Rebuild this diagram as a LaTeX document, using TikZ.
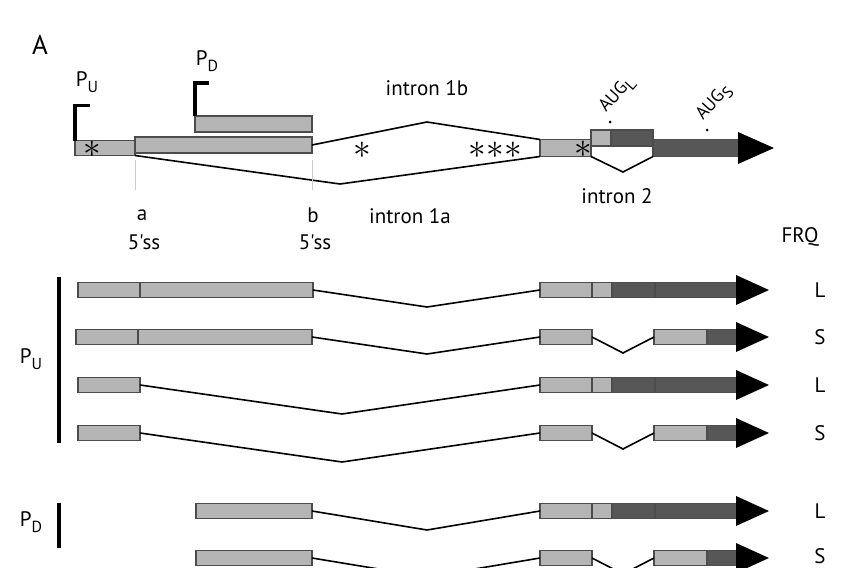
\documentclass[tikz,border=0pt]{standalone}
\usepackage{fontspec}
\newfontfamily\plainsans{PT Sans}
\usetikzlibrary{positioning}
\definecolor{exonlight}{gray}{0.71}
\definecolor{exondark}{gray}{0.34}
\definecolor{exonedge}{gray}{0.30}
\newcommand{\lowidx}[1]{\raisebox{-0.55ex}{\fontsize{16}{16}\selectfont #1}}
\newcommand{\stopmark}{\scalebox{1.7}{$\ast$}}

\begin{document}
\begin{tikzpicture}[x=1pt,y=-1pt,
    every node/.style={font=\plainsans\fontsize{21}{23}\selectfont},
    lexon/.style={draw=exonedge,fill=exonlight,line width=1.4pt,inner sep=0pt,outer sep=0pt,minimum height=15pt,anchor=west},
    dexon/.style={lexon,fill=exondark},
    intron/.style={line width=1.6pt},
    promoter/.style={line width=3.2pt},
    ast/.style={inner sep=0pt,font=\fontsize{20}{20}\selectfont},
    augtext/.style={rotate=48,anchor=south west,inner sep=1pt,font=\plainsans\fontsize{18}{20}\selectfont}]
    \useasboundingbox (0,0) rectangle (852,568);

    \node (panel) at (40,45) {\fontsize{27}{29}\selectfont A};

    % Gene model
    \node[lexon,minimum width=60pt] (u1) at (75,148) {};
    \node[lexon,minimum width=177pt,minimum height=16pt] (u2) at (135,145) {};
    \node[lexon,minimum width=117pt,minimum height=16pt] (d2) at (195,124) {};
    \node[lexon,minimum width=51pt,minimum height=17pt] (g2) at (540,148) {};
    \node[lexon,minimum width=20pt,minimum height=16pt] (augl) at (591,138) {};
    \node[dexon,minimum width=42pt,minimum height=16pt] (orfl) at (611,138) {};
    \node[dexon,minimum width=87pt,minimum height=17pt] (orfs) at (653,148) {};
    \fill (orfs.east) ++(-2,-16) -- ++(36,16) -- ++(-36,16) -- cycle;

    % Promoters
    \draw[promoter] (u1.north west) -- ++(0,-35) -- ++(15,0);
    \draw[promoter] (d2.north west) -- ++(0,-33) -- ++(14,0);
    \node (pu) at (87,82) {P\lowidx{U}};
    \node (pd) at (207,61) {P\lowidx{D}};

    % Introns
    \coordinate (i1b) at (427,122);
    \coordinate (i1a) at (340,184);
    \coordinate (i2) at (623,172);
    \draw[intron] (u2.east) -- (i1b) -- (g2.north west);
    \draw[intron] (u1.south east) -- (i1a) -- (g2.south west);
    \draw[intron] (g2.south east) -- (i2) -- (orfs.south west);

    % Stop codons
    \node[ast] (s1) at (92,149) {\stopmark};
    \node[ast] (s2) at (362,150) {\stopmark};
    \node[ast] (s3) at (477,150) {\stopmark};
    \node[ast] (s4) at (495,150) {\stopmark};
    \node[ast] (s5) at (513,150) {\stopmark};
    \node[ast] (s6) at (583,149) {\stopmark};

    % 5' splice sites
    \draw[black!20,line width=0.7pt] (u2.south west) ++(0,7) -- ++(0,30);
    \draw[black!20,line width=0.7pt] (u2.south east) ++(0,7) -- ++(0,30);
    \node (sa) at (142,215) {a};
    \node (ssa) at (144,242) {5'ss};
    \node (sb) at (313,215) {b};
    \node (ssb) at (315,242) {5'ss};

    \node (l1b) at (427,88) {intron 1b};
    \node (l1a) at (410,216) {intron 1a};
    \node (l2) at (617,196) {intron 2};
    \node (frq) at (800,237) {FRQ};

    % Start codons
    \fill (610,122) circle (1.5pt);
    \fill (707,130) circle (1.5pt);
    \node[augtext] (augL) at (610,118) {AUG\lowidx{L}};
    \node[augtext] (augS) at (707,126) {AUG\lowidx{S}};

    % Transcripts, left part
    \node[lexon,minimum width=62pt] (e1-0) at (78,290) {};
    \node[lexon,minimum width=173pt] (e1-1) at (e1-0.east) {};
    \node[lexon,minimum width=62pt] (e2-0) at (76,337) {};
    \node[lexon,minimum width=174pt] (e2-1) at (e2-0.east) {};
    \node[lexon,minimum width=62pt] (e3-1) at (78,385) {};
    \node[lexon,minimum width=62pt] (e4-1) at (78,433) {};
    \node[lexon,minimum width=116pt] (e5-1) at (196,511) {};
    \node[lexon,minimum width=116pt] (e6-1) at (196,558) {};

    % Transcripts, long form
    \foreach \r/\y in {1/290,3/385,5/511} {
        \node[lexon,minimum width=52pt] (e\r-2) at (540,\y) {};
        \node[lexon,minimum width=20pt] (e\r-3) at (e\r-2.east) {};
        \node[dexon,minimum width=43pt] (e\r-4) at (e\r-3.east) {};
        \node[dexon,minimum width=83pt] (e\r-5) at (e\r-4.east) {};
        \fill (e\r-5.east) ++(-2,-15) -- ++(33,15) -- ++(-33,15) -- cycle;
    }

    % Transcripts, short form
    \foreach \r/\y in {2/337,4/433,6/558} {
        \node[lexon,minimum width=52pt] (e\r-2) at (540,\y) {};
        \node[lexon,minimum width=53pt] (e\r-3) at (654,\y) {};
        \node[dexon,minimum width=31pt] (e\r-4) at (e\r-3.east) {};
        \fill (e\r-4.east) ++(-2,-15) -- ++(33,15) -- ++(-33,15) -- cycle;
        \coordinate (j\r) at (623,\y+16);
        \draw[intron] (e\r-2.east) -- (j\r) -- (e\r-3.west);
    }

    % Intron 1 in transcripts
    \coordinate (k1) at (427,307);
    \coordinate (k2) at (427,354);
    \coordinate (k3) at (342,414);
    \coordinate (k4) at (342,462);
    \coordinate (k5) at (427,530);
    \coordinate (k6) at (427,577);
    \foreach \r in {1,...,6}
        \draw[intron] (e\r-1.east) -- (k\r) -- (e\r-2.west);

    % Promoter groups
    \draw[promoter,line width=3.6pt] (59,277) -- (59,443);
    \draw[promoter,line width=3.6pt] (59,503) -- (59,548);
    \node (gu) at (31,359) {P\lowidx{U}};
    \node (gd) at (31,522) {P\lowidx{D}};

    \foreach \y/\t in {290/L,337/S,385/L,433/S,511/L,556/S}
        \node (frq\y) at (820,\y) {\t};
\end{tikzpicture}
\end{document}
